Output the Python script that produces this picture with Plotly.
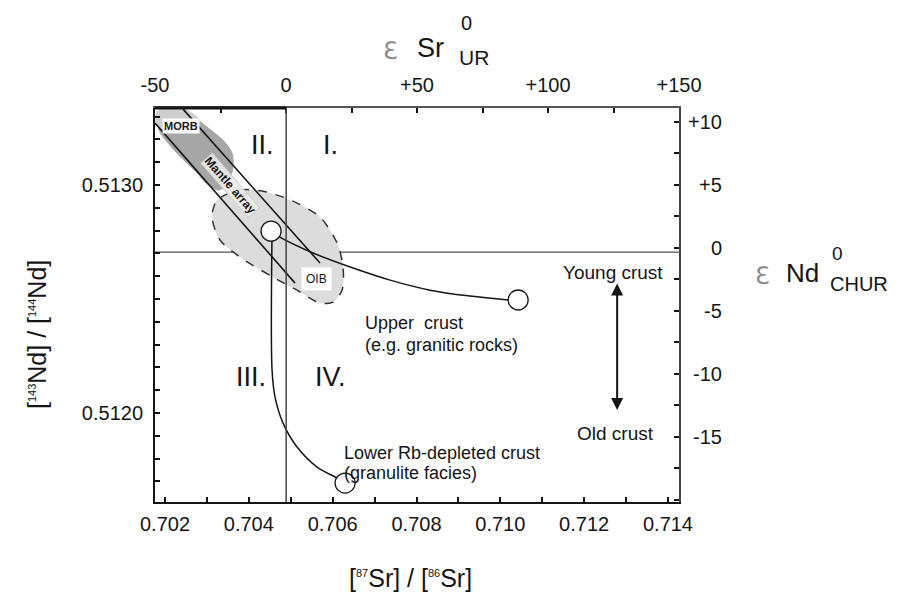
import plotly.graph_objects as go

# ---------------- data ----------------
SR_UR = 0.70489          # vertical reference line (87Sr/86Sr of UR)
ND_CHUR = 0.512706       # horizontal reference line (143Nd/144Nd of CHUR)

x_ticks_labels = [0.702, 0.704, 0.706, 0.708, 0.710, 0.712, 0.714]
y_ticks_labels = [0.5120, 0.5130]
eps_sr_vals = [-50, 0, 50, 100, 150]
eps_sr_text = ["-50", "0", "+50", "+100", "+150"]
eps_nd_vals = [10, 5, 0, -5, -10, -15]
eps_nd_text = ["+10", "+5", "0", "-5", "-10", "-15"]

# OIB field (dashed outline)
oib_sr = [0.703241, 0.703790, 0.704315, 0.704816, 0.705150, 0.705699, 0.706105,
          0.706248, 0.706224, 0.706009, 0.705699, 0.705150, 0.704578, 0.703790,
          0.703313, 0.703122, 0.703241]
oib_nd = [0.512934, 0.512978, 0.512974, 0.512947, 0.512921, 0.512860, 0.512746,
          0.512640, 0.512539, 0.512487, 0.512482, 0.512539, 0.512596, 0.512684,
          0.512759, 0.512860, 0.512934]

# MORB field
morb_sr = [0.701809, 0.701833, 0.702000, 0.702430, 0.703002, 0.703384, 0.703599,
           0.703623, 0.703480, 0.703265, 0.702955, 0.702764, 0.702286, 0.701881, 0.701809]
morb_nd = [0.513285, 0.513320, 0.513338, 0.513333, 0.513254, 0.513197, 0.513140,
           0.513079, 0.513000, 0.512978, 0.513013, 0.513053, 0.513140, 0.513232, 0.513285]
morb_cap_sr = [0.701785, 0.701809, 0.702000, 0.702453, 0.702835, 0.702597, 0.701881, 0.701785]
morb_cap_nd = [0.513272, 0.513320, 0.513338, 0.513333, 0.513285, 0.513268, 0.513250, 0.513272]

# Mantle array boundary lines
mantle_a_sr = [0.701761, 0.705103]
mantle_a_nd = [0.513272, 0.512570]
mantle_b_sr = [0.702430, 0.705699]
mantle_b_nd = [0.513333, 0.512658]

# Mixing curves
upper_sr = [0.704530, 0.704697, 0.705532, 0.706487, 0.707370, 0.708325, 0.709279, 0.710186]
upper_nd = [0.512798, 0.512776, 0.512702, 0.512636, 0.512583, 0.512539, 0.512513, 0.512496]
lower_sr = [0.704554, 0.704554, 0.704625, 0.704816, 0.705150, 0.705628, 0.706105, 0.706296]
lower_nd = [0.512798, 0.512189, 0.512070, 0.511956, 0.511851, 0.511763, 0.511715, 0.511693]

# End-member circles: mantle source, young upper crust, lower crust
circ_sr = [0.704530, 0.710425, 0.706296]
circ_nd = [0.512798, 0.512496, 0.511693]

# Young/old crust arrow
arrow_sr = 0.712787
arrow_nd = [0.512575, 0.512013]

X_RANGE = [0.701761, 0.714263]
Y_RANGE = [0.511610, 0.513338]
EPS_SR_RANGE = [-50, 150]
EPS_ND_RANGE = [-20.16, 11.11]

# ---------------- figure ----------------
W, H = 903, 606
L, R, T, B = 155, 679, 108, 502


def P(px, py):
    return (px - L) / (R - L), (B - py) / (B - T)


FONT = "Liberation Sans, Arial, sans-serif"
INK = "#151515"

fig = go.Figure()

fig.add_trace(go.Scatter(x=oib_sr, y=oib_nd, mode="lines", fill="toself",
                         fillcolor="#dcdcdc", line=dict(color="#333", width=1.5, dash="dash", shape="spline", smoothing=0.8),
                         hoverinfo="skip", showlegend=False))
fig.add_trace(go.Scatter(x=morb_sr, y=morb_nd, mode="lines", fill="toself",
                         fillcolor="#a6a6a6", line=dict(color="#a6a6a6", width=1, shape="spline", smoothing=0.8),
                         hoverinfo="skip", showlegend=False))
fig.add_trace(go.Scatter(x=morb_cap_sr, y=morb_cap_nd, mode="lines", fill="toself",
                         fillcolor="#cfcfcf", line=dict(color="#cfcfcf", width=1, shape="spline", smoothing=0.8),
                         hoverinfo="skip", showlegend=False))

for xs, ys in [(mantle_a_sr, mantle_a_nd), (mantle_b_sr, mantle_b_nd)]:
    fig.add_trace(go.Scatter(x=xs, y=ys, mode="lines", line=dict(color=INK, width=1.6),
                             hoverinfo="skip", showlegend=False))

fig.add_trace(go.Scatter(x=upper_sr, y=upper_nd, mode="lines",
                         line=dict(color=INK, width=1.5, shape="spline", smoothing=1.0),
                         hoverinfo="skip", showlegend=False))
fig.add_trace(go.Scatter(x=lower_sr, y=lower_nd, mode="lines",
                         line=dict(color=INK, width=1.5, shape="spline", smoothing=0.9),
                         hoverinfo="skip", showlegend=False))

fig.add_trace(go.Scatter(x=circ_sr, y=circ_nd, mode="markers",
                         marker=dict(size=20, color="white", line=dict(color=INK, width=1.3)),
                         hoverinfo="skip", showlegend=False, cliponaxis=False))

# dummy trace to activate the epsilon axes
fig.add_trace(go.Scatter(x=EPS_SR_RANGE, y=EPS_ND_RANGE, xaxis="x2", yaxis="y2",
                         mode="markers", marker=dict(opacity=0), hoverinfo="skip", showlegend=False))

tick_common = dict(ticks="inside", ticklen=5, tickwidth=1.5, tickcolor=INK,
                   showgrid=False, zeroline=False, showline=True,
                   tickfont=dict(family=FONT, size=20, color=INK))

fig.update_layout(
    width=W, height=H,
    margin=dict(l=L, r=W - R, t=T, b=H - B, pad=0),
    paper_bgcolor="white", plot_bgcolor="white",
    font=dict(family=FONT, color=INK),
    xaxis=dict(range=X_RANGE, tickvals=x_ticks_labels, tickformat=".3f",
               minor=dict(tickmode="linear", tick0=0.702, dtick=0.001, ticks="inside", ticklen=5,
                          tickwidth=1.5, tickcolor=INK),
               linecolor=INK, linewidth=2, ticklabelstandoff=3, **tick_common),
    yaxis=dict(range=Y_RANGE, tickvals=y_ticks_labels, tickformat=".4f",
               minor=dict(tickmode="linear", tick0=0.512, dtick=0.0001, ticks="inside", ticklen=5,
                          tickwidth=1.5, tickcolor=INK),
               linecolor=INK, linewidth=2, ticklabelstandoff=6, **tick_common),
    xaxis2=dict(range=EPS_SR_RANGE, overlaying="x", side="top", anchor="y",
                tickvals=eps_sr_vals, ticktext=eps_sr_text,
                minor=dict(tickmode="linear", tick0=0, dtick=25, ticks="inside", ticklen=5,
                           tickwidth=1.5, tickcolor=INK),
                linecolor="#555", linewidth=1.5, ticklabelstandoff=6, **tick_common),
    yaxis2=dict(range=EPS_ND_RANGE, overlaying="y", side="right", anchor="x",
                tickvals=eps_nd_vals, showticklabels=False,
                minor=dict(tickmode="linear", tick0=0, dtick=2.5, ticks="inside", ticklen=5,
                           tickwidth=1.5, tickcolor=INK),
                linecolor="#444", linewidth=1.5, **tick_common),
)

# reference lines & thick top segment
fig.add_shape(type="line", xref="x", yref="paper", x0=SR_UR, x1=SR_UR, y0=0, y1=1,
              line=dict(color="#444", width=1.5), layer="above")
fig.add_shape(type="line", xref="paper", yref="y", x0=0, x1=1, y0=ND_CHUR, y1=ND_CHUR,
              line=dict(color="#555", width=1.3), layer="below")
fig.add_shape(type="line", xref="x", yref="paper", x0=X_RANGE[0], x1=SR_UR, y0=1, y1=1,
              line=dict(color=INK, width=3), layer="above")

# arrow
fig.add_annotation(x=arrow_sr, y=arrow_nd[1], ax=arrow_sr, ay=arrow_nd[0], xref="x", yref="y",
                   axref="x", ayref="y", text="", showarrow=True, arrowhead=2, arrowsize=1.2,
                   arrowwidth=2, arrowcolor=INK, arrowside="end+start")


def text_at(px, py, txt, size, anchor="center", color=INK, **kw):
    x, y = P(px, py)
    fig.add_annotation(x=x, y=y, xref="paper", yref="paper", text=txt, showarrow=False,
                       xanchor=anchor, yanchor="middle",
                       font=dict(family=kw.pop("family", FONT), size=size, color=color), **kw)


# right axis tick labels (right aligned), positioned with the epsilon-Nd scale
for v, t in zip(eps_nd_vals, eps_nd_text):
    fig.add_annotation(x=(724 - L) / (R - L), y=v, xref="paper", yref="y2", text=t, showarrow=False,
                       xanchor="right", yanchor="middle", font=dict(family=FONT, size=20, color=INK))

# quadrant labels
text_at(262, 145, "II.", 27)
text_at(330, 145, "I.", 27)
text_at(251, 377, "III.", 27)
text_at(330, 377, "IV.", 27)

# field labels
text_at(181, 126, "<b>MORB</b>", 11, bgcolor="white", borderpad=1)
text_at(230, 185, "<b>Mantle array</b>", 12, textangle=49, bgcolor="rgba(236,236,236,0.9)",
        bordercolor="#cfcfcf", borderwidth=1, borderpad=0)
text_at(316, 279, "OIB", 12, bgcolor="white", borderpad=4)

text_at(363, 323, "Upper  crust", 18, anchor="left")
text_at(363, 345, "(e.g. granitic rocks)", 18, anchor="left")
text_at(342, 453, "Lower Rb-depleted crust", 18, anchor="left")
text_at(342, 473, "(granulite facies)", 18, anchor="left")
text_at(613, 272, "Young crust", 19)
text_at(615, 433, "Old crust", 19)

# axis titles
text_at(390, 51, "ℇ", 24, color="#8a8a8a", family="DejaVu Sans")
text_at(430, 48, "Sr", 27)
text_at(466, 23, "0", 20)
text_at(474, 58, "UR", 21)

text_at(762, 276, "ℇ", 24, color="#8a8a8a", family="DejaVu Sans")
text_at(802, 273, "Nd", 26)
text_at(837, 253, "0", 19)
text_at(859, 284, "CHUR", 20)

SUP = '<sup><span style="font-size:11px">{}</span></sup>'
text_at(37, 335, "[" + SUP.format("143") + "Nd] / [" + SUP.format("144") + "Nd]", 25, textangle=-90)
text_at(410, 578, "[" + SUP.format("87") + "Sr] / [" + SUP.format("86") + "Sr]", 25)

fig.write_html("out.html")
